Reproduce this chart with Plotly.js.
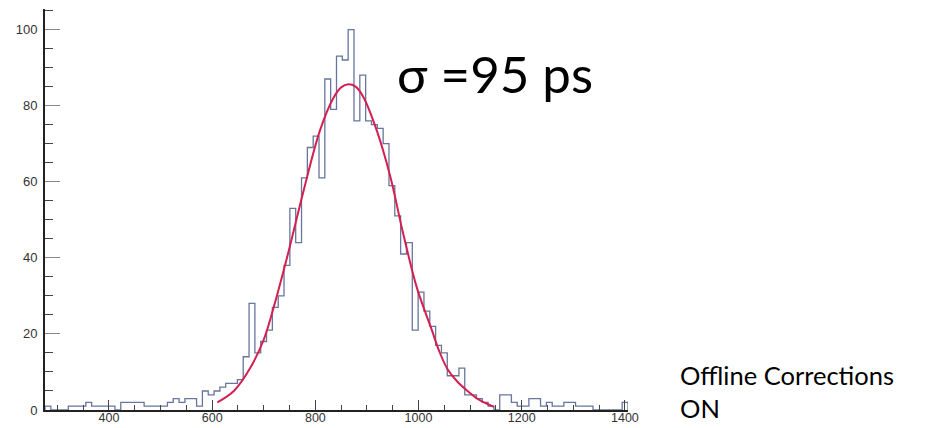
<!DOCTYPE html>
<html>
<head>
<meta charset="utf-8">
<script src="https://cdn.plot.ly/plotly-3.0.1.min.js"></script>
<style>
html,body{margin:0;padding:0;background:#fff;}
#chart{width:934px;height:428px;}
</style>
</head>
<body>
<div id="chart"></div>
<script>
// Histogram binning
const binStart = 276;
const binWidth = 11.3;
// Counts per bin, left to right
const counts = [
  1,0,0,0,1,1,1,2,1,1,
  1,1,0,2,2,2,2,1,1,1,
  1,2,3,2,3,3,1,5,4,5,
  6,7,7,8,14,28,15,18,21,27,
  30,38,53,44,61,69,72,61,87,79,
  93,92,100,76,88,76,75,74,70,59,
  51,41,44,21,31,26,22,17,15,9,
  9,11,4,4,3,2,1,0,4,4,
  2,1,1,3,3,1,2,1,1,2,
  2,1,1,1,0,0,0,0,0,2
];
// Gaussian fit curve
const fitX = [610,642,674,700,713,745,777,809,835,850,864,878,893,919,945,970,996,1015,1024,1040,1056,1075,1095,1115,1130,1146];
const fitY = [2.0,5.0,11.1,18.5,24,40,57.5,73.5,82,84.8,85.6,85,82.3,73.5,61.5,46.5,32.5,25,21.7,15.5,10.8,7.5,5.0,2.9,1.8,0.8];
// Axis ticks
const xTicks = [400,600,800,1000,1200,1400];
const yTicks = [0,20,40,60,80,100];
const sigmaText = "σ =95 ps";
const noteLines = ["Offline Corrections", "ON"];

// Step outline of the histogram
const stepX = [binStart];
const stepY = [0];
for (let i = 0; i < counts.length; i++) {
  stepX.push(binStart + i * binWidth);
  stepY.push(counts[i]);
}
stepX.push(binStart + counts.length * binWidth);
stepY.push(counts[counts.length - 1]);
stepX.push(binStart + counts.length * binWidth);
stepY.push(0);

const traces = [
  {
    x: stepX, y: stepY, type: 'scatter', mode: 'lines',
    line: {shape: 'hv', color: '#66769c', width: 1.3},
    hoverinfo: 'skip', showlegend: false
  },
  {
    x: fitX, y: fitY, type: 'scatter', mode: 'lines',
    line: {shape: 'spline', smoothing: 1, color: '#d42050', width: 2},
    hoverinfo: 'skip', showlegend: false
  }
];

const tickFont = {family: 'Liberation Sans, Arial, sans-serif', size: 13, color: '#333'};

const layout = {
  width: 934, height: 428,
  margin: {l: 45, r: 306, t: 9, b: 18, pad: 0},
  paper_bgcolor: '#fff', plot_bgcolor: '#fff',
  showlegend: false,
  xaxis: {
    range: [276, 1406],
    tickmode: 'array', tickvals: xTicks, ticktext: xTicks.map(String),
    ticks: 'inside', ticklen: 10, tickwidth: 1, tickcolor: '#444',
    minor: {dtick: 50, tick0: 0, ticks: 'inside', ticklen: 5, tickwidth: 1, tickcolor: '#444'},
    showline: true, linecolor: '#222', linewidth: 2,
    showgrid: false, zeroline: false,
    tickfont: {family: 'Liberation Sans, Arial, sans-serif', size: 12.5, color: '#333'},
    ticklabelstandoff: -5,
    fixedrange: true
  },
  yaxis: {
    range: [0, 105.4],
    tickmode: 'array', tickvals: yTicks, ticktext: yTicks.map(String),
    ticks: 'inside', ticklen: 15, tickwidth: 1, tickcolor: '#888',
    minor: {dtick: 5, tick0: 0, ticks: 'inside', ticklen: 8, tickwidth: 1, tickcolor: '#444'},
    showline: true, linecolor: '#222', linewidth: 2,
    showgrid: false, zeroline: false,
    tickfont: tickFont, ticklabelstandoff: 3,
    fixedrange: true
  },
  annotations: [
    {
      text: sigmaText, xref: 'paper', yref: 'paper',
      x: 0.600, y: 0.838, xanchor: 'left', yanchor: 'middle',
      showarrow: false, font: {family: 'Lato, sans-serif', size: 51, color: '#000'}
    },
    {
      text: noteLines.join('<br>'), xref: 'paper', yref: 'paper',
      x: 1.0855, y: 0.046, xanchor: 'left', yanchor: 'middle', align: 'left',
      showarrow: false, font: {family: 'Lato, sans-serif', size: 25.5, color: '#000'}
    }
  ]
};

Plotly.newPlot('chart', traces, layout, {staticPlot: true, displayModeBar: false});
</script>
</body>
</html>
